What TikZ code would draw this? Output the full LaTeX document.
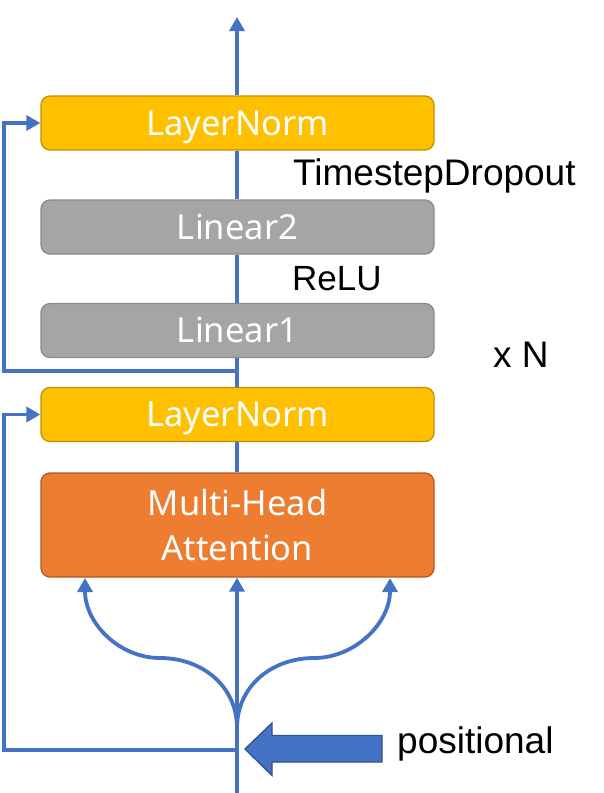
\documentclass[tikz,border=0pt]{standalone}
\usepackage{fontspec}
\setmainfont{Liberation Sans}
\newfontfamily\boxfont{Noto Sans}
\usetikzlibrary{arrows.meta}
\definecolor{flow}{HTML}{4472C4}
\definecolor{flowdark}{HTML}{2F528F}
\definecolor{lnfill}{HTML}{FFC000}
\definecolor{lnborder}{HTML}{BF9000}
\definecolor{grfill}{HTML}{A5A5A5}
\definecolor{grborder}{HTML}{8A8A8A}
\definecolor{mhfill}{HTML}{ED7D31}
\definecolor{mhborder}{HTML}{AE5A21}
\begin{document}
\begin{tikzpicture}[x=1pt,y=-1pt,
  blk/.style={draw, line width=1.3pt, rounded corners=9pt, minimum width=393pt,
    minimum height=54pt, inner sep=0pt, text=white, align=center,
    font=\boxfont\fontsize{34.5}{45}\selectfont},
  lnbox/.style={blk, fill=lnfill, draw=lnborder, text height=24pt, text depth=0pt},
  grbox/.style={blk, fill=grfill, draw=grborder, text height=24pt, text depth=0pt},
  mhbox/.style={blk, fill=mhfill, draw=mhborder, minimum height=104pt},
  flowline/.style={draw=flow, line width=3.8pt},
  flowarrow/.style={flowline, -{Triangle[width=15pt,length=14pt]}},
  lbl/.style={inner sep=0pt, text=black, anchor=base west}
]
\useasboundingbox (0,0) rectangle (604,793);

% boxes
\node[lnbox] (lntop) at (237.5,123) {LayerNorm};
\node[grbox] (lin2) at (237.5,227) {Linear2};
\node[grbox] (lin1) at (237.5,330.5) {Linear1};
\node[lnbox] (lnbot) at (237.5,414.5) {LayerNorm};
\node[mhbox] (mha) at (237.5,525) {Multi-Head\\Attention};

% coordinates
\coordinate (bot) at (237,793);
\coordinate (top) at (237,17);
\coordinate (lft) at (4,0);
\coordinate (res1) at (237,371);
\coordinate (res2) at (237,750);
\coordinate (merge) at (237,728);
\coordinate (qin) at (85,578);
\coordinate (vin) at (390,578);

% main flow
\draw[flowarrow] (bot) -- (mha.south -| bot);
\draw[flowline] (mha.north -| bot) -- (lnbot.south -| bot);
\draw[flowline] (lnbot.north -| bot) -- (lin1.south -| bot);
\draw[flowline] (lin1.north -| bot) -- (lin2.south -| bot);
\draw[flowline] (lin2.north -| bot) -- (lntop.south -| bot);
\draw[flowarrow] (lntop.north -| bot) -- (top);

% residuals
\draw[flowarrow] (res1) -- (res1 -| lft) |- (lntop.west);
\draw[flowarrow] (res2) -- (res2 -| lft) |- (lnbot.west);

% split curves
\draw[flowarrow] (merge) .. controls (237,686) and (202,658) .. (160,658)
  .. controls (119,658) and (85,623) .. (qin);
\draw[flowarrow] (merge) .. controls (237,686) and (272,658) .. (314,658)
  .. controls (355,658) and (390,623) .. (vin);

% positional block arrow
\filldraw[fill=flow, draw=flowdark, line width=1.3pt, line join=miter]
  (245,749) -- (272,723) -- (272,735.5) -- (382,735.5) -- (382,762)
  -- (272,762) -- (272,775.5) -- cycle;

% labels
\node[lbl, font=\fontsize{37}{40}\selectfont] (tdrop) at (293,185) {TimestepDropout};
\node[lbl, font=\fontsize{35}{40}\selectfont] (relu) at (292,290) {ReLU};
\node[lbl, font=\fontsize{37}{40}\selectfont] (xn) at (493,367) {x N};
\node[lbl, font=\fontsize{37}{40}\selectfont] (postxt) at (397,753) {positional};
\end{tikzpicture}
\end{document}
